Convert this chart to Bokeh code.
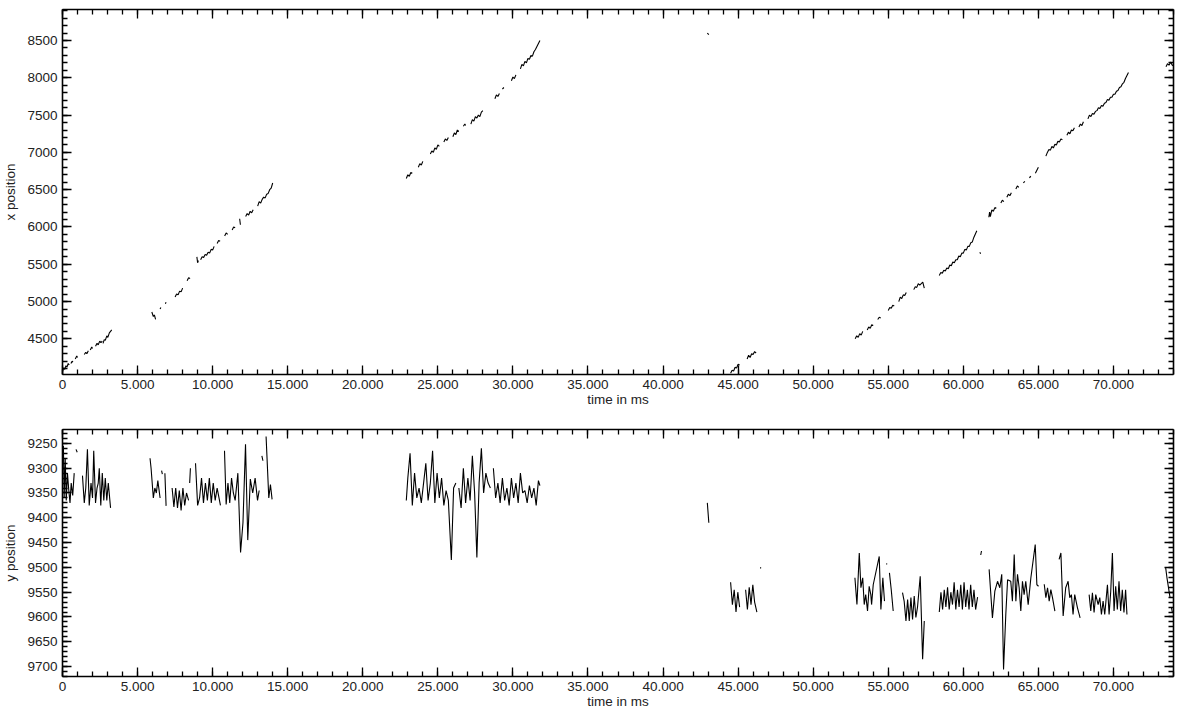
import math
from bokeh.plotting import figure
from bokeh.layouts import column
from bokeh.models import Range1d, LinearAxis, FixedTicker
from bokeh.embed import file_html
from bokeh.resources import INLINE

NaN = float("nan")

# ---------------- data (time in ms, positions) ----------------
top_t = [0, 80, 150, 230, 300, 380, 450, NaN, 560, 640, 700, NaN, 850, 950, 1000, NaN,
         1450, 1550, 1620, 1720, NaN, 1850, 1950, 2000, NaN,
         2200, 2300, 2380, 2480, 2560, 2650, NaN, 2700, 2780, 2850, 2950, 3020, 3120, 3200, 3280, NaN,
         5950, 6050, 6120, 6200, NaN, 6500, 6550, NaN, 6850, 6900, NaN,
         7500, 7600, 7700, 7800, 7900, 8000, NaN, 8300, 8400, 8500, NaN,
         8950, 9000, 9050, NaN, 9200, 9300, 9400, 9500, 9600, 9700, 9800, 9900, 10000, 10100, NaN,
         10300, 10400, 10500, NaN, 10800, 10900, 11000, NaN, 11300, 11400, 11500, NaN, 11800, 11850, NaN,
         12200, 12300, 12400, 12500, 12600, 12700, NaN, 13000, 13100, 13200, 13300, 13400, 13500, 13600, 13700, 13800, 13900, 14000, NaN,
         22900, 23000, 23100, 23200, 23300, NaN, 23700, 23800, 23900, 24000, NaN,
         24500, 24600, 24700, 24800, 24900, 25000, 25100, NaN, 25400, 25500, 25600, 25700, NaN,
         26000, 26100, 26200, 26300, 26400, NaN, 26700, 26800, 26850, NaN,
         27200, 27300, 27400, 27500, 27600, 27700, 27800, 27900, 28000, NaN,
         28800, 28900, 29000, 29100, NaN, 29300, 29400, NaN,
         29900, 30000, 30100, 30200, NaN, 30500, 30600, 30700, 30800, 30900, 31000, 31100, 31200, 31300, 31400, 31500, 31600, 31800, NaN,
         42950, 43050, NaN,
         44500, 44600, 44700, 44800, 44900, 45000, 45100, NaN, 45600, 45700, 45800, 45900, 46000, 46100, 46200, NaN,
         52800, 52900, 53000, 53100, 53200, 53300, NaN, 53600, 53700, 53800, 53900, 54000, NaN,
         54300, 54400, 54500, NaN, 55000, 55100, 55200, 55300, 55400, NaN, 55700, 55800, 55900, 56000, 56100, 56200, NaN, 56700, 56800, 56900, 57000, 57100, 57300, 57400, NaN,
         58400, 58500, 58600, 58700, 58800, 58900, 59000, 59100, 59200, 59300, 59400, 59500, 59600, 59700, 59800, 59900, 60000, 60100, 60200, 60300, 60400, 60500, 60600, 60700, 60900, NaN,
         61100, 61150, NaN,
         61700, 61750, 61800, 61900, 62000, 62100, 62200, NaN, 62500, 62600, 62700, NaN, 62900, 63000, 63100, 63200, NaN, 63500, 63600, 63700, NaN, 64000, 64100, NaN, 64400, 64500, NaN, 64800, 64900, 65000, NaN,
         65500, 65600, 65700, 65800, 65900, 66000, 66100, 66200, 66300, 66400, 66500, 66600, NaN, 66900, 67000, 67100, 67200, 67300, 67400, NaN,
         67700, 67800, 67900, 68000, NaN, 68300, 68400, 68500, 68600, 68700, 68800, 68900, 69000, 69100, 69200, 69300, 69400, 69500, 69600, 69700, 69800, 69900, 70000, 70100, 70200, 70300, 70400, 70500, 70600, 70700, 70800, 71000, NaN,
         73500, 73600, 73700, 73800, 73950]
top_x = [4060, 4110, 4090, 4140, 4120, 4170, 4150, NaN, 4170, 4200, 4190, NaN, 4230, 4270, 4250, NaN,
         4290, 4320, 4300, 4340, NaN, 4350, 4390, 4370, NaN,
         4400, 4440, 4420, 4470, 4450, 4470, NaN, 4440, 4490, 4480, 4540, 4520, 4580, 4600, 4620, NaN,
         4860, 4800, 4820, 4760, NaN, 4900, 4920, NaN, 4970, 4990, NaN,
         5060, 5100, 5090, 5140, 5130, 5180, NaN, 5280, 5320, 5310, NaN,
         5600, 5520, 5550, NaN, 5560, 5600, 5590, 5630, 5620, 5660, 5650, 5700, 5690, 5740, NaN,
         5780, 5820, 5810, NaN, 5880, 5920, 5900, NaN, 5960, 6000, 5990, NaN, 6110, 6030, NaN,
         6140, 6180, 6160, 6210, 6190, 6230, NaN, 6280, 6340, 6320, 6370, 6400, 6390, 6440, 6450, 6500, 6520, 6590, NaN,
         6650, 6700, 6680, 6730, 6720, NaN, 6800, 6850, 6830, 6880, NaN,
         6980, 7020, 7000, 7060, 7040, 7100, 7080, NaN, 7140, 7180, 7160, 7200, NaN,
         7210, 7260, 7240, 7300, 7280, NaN, 7350, 7380, 7360, NaN,
         7380, 7440, 7420, 7480, 7460, 7500, 7480, 7540, 7560, NaN,
         7720, 7770, 7750, 7790, NaN, 7850, 7870, NaN,
         7960, 8010, 7990, 8040, NaN, 8120, 8180, 8160, 8220, 8200, 8260, 8250, 8300, 8290, 8350, 8380, 8420, 8500, NaN,
         8600, 8580, NaN,
         4040, 4080, 4070, 4120, 4110, 4160, 4150, NaN, 4230, 4280, 4250, 4300, 4290, 4330, 4310, NaN,
         4500, 4540, 4520, 4570, 4550, 4600, NaN, 4620, 4660, 4640, 4690, 4680, NaN,
         4760, 4790, 4780, NaN, 4880, 4920, 4910, 4950, 4940, NaN, 5000, 5060, 5040, 5090, 5080, 5120, NaN, 5160, 5200, 5190, 5240, 5220, 5260, 5180, NaN,
         5350, 5390, 5380, 5420, 5410, 5450, 5440, 5490, 5480, 5530, 5520, 5560, 5560, 5610, 5600, 5650, 5650, 5700, 5690, 5740, 5740, 5790, 5800, 5860, 5950, NaN,
         5660, 5640, NaN,
         6130, 6200, 6140, 6230, 6210, 6260, 6250, NaN, 6320, 6360, 6340, NaN, 6400, 6440, 6420, 6460, NaN, 6510, 6550, 6530, NaN, 6590, 6610, NaN, 6660, 6680, NaN, 6720, 6760, 6800, NaN,
         6950, 7000, 7040, 7030, 7080, 7060, 7110, 7100, 7150, 7140, 7180, 7170, NaN, 7230, 7270, 7250, 7300, 7290, 7330, NaN,
         7340, 7380, 7360, 7410, NaN, 7450, 7500, 7480, 7520, 7510, 7550, 7560, 7600, 7590, 7630, 7620, 7660, 7670, 7710, 7700, 7740, 7740, 7780, 7780, 7820, 7830, 7870, 7880, 7920, 7940, 7990, 8070, NaN,
         8150, 8190, 8170, 8210, 8160]

bot_t = [0, 60, 110, 180, 250, 330, 420, 500, 580, 680, 780, NaN, 900, 980, NaN,
         1330, 1450, 1550, 1660, 1780, 1900, 2000, 2080, 2200, 2300, 2380, 2450, 2550, 2650, 2750, 2850, 2950, 3050, 3200, NaN,
         5830, 5900, 6050, 6150, 6250, 6350, 6500, NaN, 6600, 6650, NaN, 6820, 6900, NaN,
         7300, 7420, 7540, 7660, 7780, 7900, 8020, 8140, 8260, 8400, NaN, 8470, 8520, NaN,
         8860, 9000, 9130, 9260, 9390, 9520, 9650, 9780, 9910, 10040, 10170, 10300, 10520, NaN,
         10790, 10900, 11020, 11140, 11260, 11380, 11500, 11680, 11860, 12020, 12190, 12340, 12510, 12670, 12830, 12990, 13100, NaN,
         13280, 13350, NaN, 13560, 13740, 13850, 13960, NaN,
         22900, 23000, 23150, 23300, 23450, 23600, 23750, 23900, 24050, 24200, 24350, 24500, 24650, 24800, 24950, 25100, 25250, 25400, 25550, 25700, 25900, 26050, 26200, NaN,
         26400, 26550, 26700, 26850, 27000, 27150, 27300, 27450, 27600, 27750, 27900, 28050, 28200, 28350, 28500, NaN,
         28700, 28850, 29000, 29150, 29300, 29450, 29600, 29750, 29900, 30050, 30200, 30350, 30500, 30650, 30800, 30950, 31100, 31250, 31400, 31550, 31700, 31800, NaN,
         42950, 43050, NaN,
         44500, 44620, 44740, 44860, 44980, 45100, NaN, 45500, 45620, 45740, 45860, 45980, 46100, 46250, NaN, 46480, 46520, NaN,
         52780, 52915, 53070, 53180, 53300, 53400, 53500, 53620, 53730, 53840, 53890, 54000, 54400, 54510, 54640, 54750, NaN, 54880, 54920, NaN, 55080, 55200, 55330, NaN,
         55950, 56060, 56180, 56290, 56400, 56510, 56620, 56730, 56840, 56950, 57130, 57290, 57400, NaN,
         58400, 58510, 58620, 58730, 58840, 58950, 59060, 59170, 59280, 59390, 59500, 59610, 59720, 59830, 59940, 60050, 60160, 60270, 60380, 60490, 60600, 60710, 60820, 60950, NaN,
         61160, 61210, NaN,
         61720, 61940, 62100, 62280, 62430, 62560, 62680, 62830, 62950, 63160, 63270, 63390, 63500, 63610, 63720, 63830, 63940, 64050, 64160, 64320, 64500, 64790, 64900, 65010, NaN,
         65390, 65500, 65610, 65720, 65830, 65940, 66100, NaN,
         66380, 66500, 66650, 66820, 66980, 67090, 67200, 67310, 67420, 67600, 67780, NaN,
         68380, 68490, 68600, 68710, 68820, 68980, 69090, 69200, 69310, 69420, 69600, 69710, 69820, 69930, 70040, 70150, 70260, 70370, 70480, 70590, 70700, 70810, 70900, NaN,
         73480, 73560, 73770, NaN, 73860, 73930]
bot_y = [9280, 9255, 9360, 9280, 9365, 9310, 9345, 9370, 9330, 9355, 9310, NaN, 9262, 9268, NaN,
         9315, 9370, 9340, 9262, 9375, 9330, 9360, 9265, 9370, 9340, 9330, 9300, 9375, 9310, 9365, 9320, 9365, 9330, 9380, NaN,
         9280, 9300, 9360, 9340, 9350, 9325, 9360, NaN, 9305, 9312, NaN, 9310, 9376, NaN,
         9340, 9378, 9340, 9380, 9345, 9385, 9340, 9375, 9350, 9365, NaN, 9330, 9300, NaN,
         9290, 9375, 9360, 9320, 9370, 9330, 9365, 9320, 9370, 9330, 9365, 9340, 9375, NaN,
         9265, 9373, 9330, 9370, 9320, 9350, 9365, 9310, 9470, 9410, 9252, 9445, 9322, 9350, 9320, 9365, 9345, NaN,
         9275, 9285, NaN, 9236, 9360, 9333, 9363, NaN,
         9365, 9320, 9270, 9375, 9310, 9360, 9340, 9370, 9330, 9290, 9365, 9330, 9265, 9370, 9310, 9360, 9320, 9375, 9345, 9365, 9485, 9340, 9330, NaN,
         9340, 9380, 9300, 9370, 9320, 9365, 9275, 9350, 9480, 9330, 9260, 9350, 9310, 9330, 9340, NaN,
         9300, 9360, 9330, 9370, 9320, 9365, 9340, 9375, 9320, 9360, 9330, 9370, 9310, 9350, 9345, 9370, 9335, 9360, 9340, 9375, 9325, 9335, NaN,
         9370, 9410, NaN,
         9530, 9575, 9545, 9590, 9550, 9580, NaN, 9545, 9585, 9540, 9575, 9535, 9570, 9590, NaN, 9500, 9502, NaN,
         9521, 9575, 9471, 9541, 9521, 9575, 9555, 9588, 9538, 9555, 9575, 9535, 9478, 9585, 9521, 9568, NaN, 9492, 9494, NaN, 9511, 9545, 9588, NaN,
         9551, 9568, 9608, 9565, 9608, 9561, 9605, 9558, 9601, 9580, 9518, 9685, 9608, NaN,
         9590, 9550, 9585, 9545, 9580, 9540, 9585, 9550, 9575, 9530, 9585, 9545, 9580, 9535, 9585, 9530, 9580, 9545, 9585, 9535, 9580, 9545, 9585, 9560, NaN,
         9475, 9467, NaN,
         9504, 9602, 9548, 9528, 9541, 9514, 9706, 9595, 9525, 9528, 9568, 9474, 9568, 9514, 9541, 9588, 9528, 9555, 9528, 9575, 9521, 9454, 9535, 9538, NaN,
         9534, 9561, 9541, 9568, 9545, 9561, 9588, NaN,
         9484, 9471, 9598, 9541, 9528, 9561, 9555, 9595, 9555, 9581, 9602, NaN,
         9555, 9588, 9551, 9591, 9555, 9575, 9561, 9595, 9568, 9595, 9535, 9595, 9548, 9471, 9588, 9538, 9585, 9528, 9588, 9545, 9591, 9545, 9595, NaN,
         9501, 9520, 9561, NaN, 9580, 9592]

x_tick_values = [0, 5000, 10000, 15000, 20000, 25000, 30000, 35000, 40000, 45000, 50000, 55000, 60000, 65000, 70000]
x_tick_labels = ["0", "5.000", "10.000", "15.000", "20.000", "25.000", "30.000", "35.000",
                 "40.000", "45.000", "50.000", "55.000", "60.000", "65.000", "70.000"]
top_y_ticks = [4500, 5000, 5500, 6000, 6500, 7000, 7500, 8000, 8500]
bot_y_ticks = [9250, 9300, 9350, 9400, 9450, 9500, 9550, 9600, 9650, 9700]

FONT = "Liberation Sans"
FS = "13.5px"


def style_fig(p, yticks, yminor, xlabel, ylabel):
    xt = FixedTicker(ticks=x_tick_values, minor_ticks=list(range(0, 75000, 1000)))
    yt = FixedTicker(ticks=yticks, minor_ticks=yminor)
    overrides = {v: s for v, s in zip(x_tick_values, x_tick_labels)}
    xa = LinearAxis(ticker=xt, axis_label=xlabel, major_label_overrides=overrides)
    ya = LinearAxis(ticker=yt, axis_label=ylabel)
    xa2 = LinearAxis(ticker=xt)
    ya2 = LinearAxis(ticker=yt)
    for ax in (xa, ya, xa2, ya2):
        ax.axis_line_color = "black"
        ax.axis_line_width = 1.6
        ax.major_tick_in = 9
        ax.major_tick_out = 0
        ax.minor_tick_in = 5
        ax.minor_tick_out = 0
        ax.major_tick_line_color = "black"
        ax.minor_tick_line_color = "black"
        ax.major_tick_line_width = 1.3
        ax.minor_tick_line_width = 1.3
        ax.major_label_text_font = FONT
        ax.major_label_text_color = "#222222"
        ax.axis_label_text_font = FONT
        ax.axis_label_text_font_style = "normal"
        ax.axis_label_text_font_size = FS
        ax.axis_label_text_color = "#222222"
    for ax in (xa, ya):
        ax.major_label_text_font_size = FS
    # mirrored axes: ticks only, labels not drawn
    for ax in (xa2, ya2):
        ax.major_label_text_font_size = "1px"
        ax.major_label_text_color = None
        ax.major_label_standoff = 0
    xa.major_label_standoff = 5
    xa.axis_label_standoff = 0
    ya.major_label_standoff = 5
    ya.axis_label_standoff = 6
    p.add_layout(xa, "below")
    p.add_layout(ya, "left")
    p.add_layout(xa2, "above")
    p.add_layout(ya2, "right")
    p.xgrid.ticker = xt
    p.ygrid.ticker = yt
    for g in (p.xgrid, p.ygrid):
        g.grid_line_color = "#9a9a9a"
        g.grid_line_dash = "1 3"
        g.grid_line_width = 1


p1 = figure(frame_width=1111, frame_height=365, output_backend="svg", toolbar_location=None,
            x_axis_type=None, y_axis_type=None,
            x_range=Range1d(0, 74000), y_range=Range1d(4022, 8916),
            min_border_left=54, min_border_right=4, min_border_top=9, min_border_bottom=4)
p1.outline_line_color = None
style_fig(p1, top_y_ticks, list(range(4100, 8950, 100)), "time in ms", "x position")
p1.line(top_t, top_x, line_color="black", line_width=1.1)

p2 = figure(frame_width=1111, frame_height=247, output_backend="svg", toolbar_location=None,
            x_axis_type=None, y_axis_type=None,
            x_range=Range1d(0, 74000), y_range=Range1d(9720, 9222),
            min_border_left=54, min_border_right=4, min_border_top=20, min_border_bottom=2)
p2.outline_line_color = None
style_fig(p2, bot_y_ticks, list(range(9230, 9721, 10)), "time in ms", "y position")
p2.line(bot_t, bot_y, line_color="black", line_width=1.1)

layout = column(p1, p2, spacing=0)
open("out.html", "w").write(file_html(layout, INLINE))
